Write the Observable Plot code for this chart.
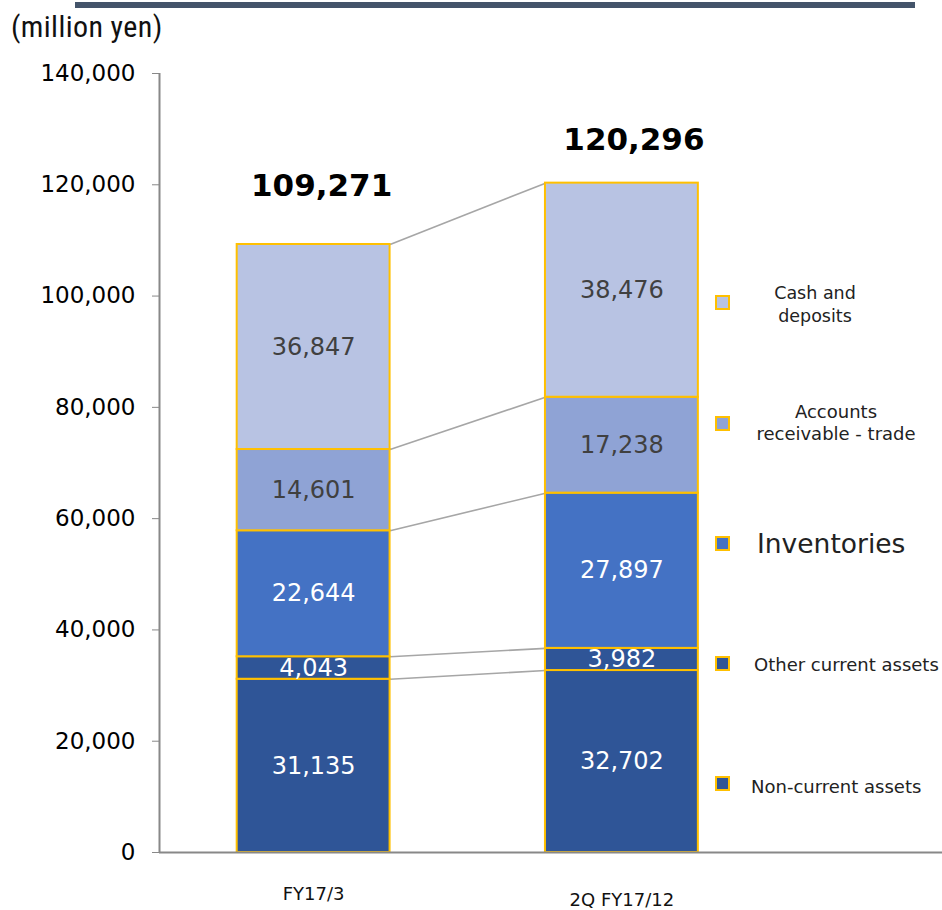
<!DOCTYPE html>
<html>
<head>
<meta charset="utf-8">
<script src="https://cdn.jsdelivr.net/npm/d3@7"></script>
<script src="https://cdn.jsdelivr.net/npm/@observablehq/plot@0.6"></script>
<style>
  html, body { margin: 0; padding: 0; background: #fff; }
  #wrap { position: relative; width: 942px; height: 910px; overflow: hidden; font-family: "DejaVu Sans", Verdana, sans-serif; }
  #topbar { position: absolute; left: 75px; top: 2px; width: 840px; height: 6px; background: #44546A; }
  #unit { position: absolute; left: 11px; top: 9px; line-height: 36px; font-family: "Liberation Sans Narrow", "Roboto Condensed", "Liberation Sans", sans-serif; font-stretch: condensed; font-size: 30px; color: #111; letter-spacing: 0.4px; }
  #chart { position: absolute; left: 0; top: 50px; }
  .lg-sq { position: absolute; width: 11px; height: 11px; border: 2px solid #FFC000; }
  .lg-tx { position: absolute; color: #222; white-space: nowrap; transform: translateY(-50%); }
  svg [aria-label="y-axis tick"] { stroke: #888; }
</style>
</head>
<body>
<div id="wrap">
  <div id="topbar"></div>
  <div id="unit">(million yen)</div>
  <div id="chart"></div>
  <div id="legend"></div>
</div>
<script>
// ---- data ----
const periods = ["FY17/3", "2Q FY17/12"];
const categories = ["Non-current assets", "Other current assets", "Inventories", "Accounts receivable - trade", "Cash and deposits"];
const valuesFY17_3 = [31135, 4043, 22644, 14601, 36847];
const values2QFY17_12 = [32702, 3982, 27897, 17238, 38476];
const totals = [109271, 120296];
const yTicks = [0, 20000, 40000, 60000, 80000, 100000, 120000, 140000];
const legendLabels = ["Non-current assets", "Other current assets", "Inventories", "Accounts\nreceivable - trade", "Cash and\ndeposits"];

// ---- styles ----
const colors = ["#2F5597", "#2F5597", "#4472C4", "#8FA3D5", "#B8C3E3"];
const halfWidth = 0.248;

// ---- build table ----
const series = [valuesFY17_3, values2QFY17_12];
const rows = [];
series.forEach((vals, i) => {
  let acc = 0;
  vals.forEach((v, k) => {
    rows.push({i, period: periods[i], category: categories[k], k, value: v, y1: acc, y2: acc + v});
    acc += v;
  });
});
const links = categories.map((c, k) => ({
  a: rows.find(r => r.i === 0 && r.k === k).y2,
  b: rows.find(r => r.i === 1 && r.k === k).y2
}));
const fmt = d3.format(",");
const totalRows = totals.map((t, i) => ({i, t}));

const chart = Plot.plot({
  width: 942,
  height: 860,
  marginLeft: 159,
  marginRight: 0,
  marginTop: 23,
  marginBottom: 58,
  style: {fontFamily: "'DejaVu Sans', Verdana, sans-serif", background: "transparent"},
  x: {type: "linear", domain: [-0.5, 2.04], axis: null},
  y: {domain: [0, 140000], label: null, axis: null},
  color: {domain: categories, range: colors},
  marks: [
    Plot.link(links, {x1: () => 0 + halfWidth, x2: () => 1 - halfWidth, y1: "a", y2: "b", stroke: "#A6A6A6", strokeWidth: 1.6}),
    Plot.rect(rows, {x1: d => d.i - halfWidth, x2: d => d.i + halfWidth, y1: "y1", y2: "y2", fill: "category", stroke: "#FFC000", strokeWidth: 2}),
    Plot.text(rows, {filter: d => d.k < 3, x: "i", y: d => (d.y1 + d.y2) / 2, text: d => fmt(d.value), fill: "#fff", fontSize: 24}),
    Plot.text(rows, {filter: d => d.k >= 3, x: "i", y: d => (d.y1 + d.y2) / 2, text: d => fmt(d.value), fill: "#404040", fontSize: 24}),
    Plot.text(totalRows, {filter: d => d.i === 0, x: "i", y: "t", text: d => fmt(d.t), fontSize: 31, fontWeight: "bold", fill: "#000", dy: -58, dx: 8}),
    Plot.text(totalRows, {filter: d => d.i === 1, x: "i", y: "t", text: d => fmt(d.t), fontSize: 31, fontWeight: "bold", fill: "#000", dy: -43, dx: 12}),
    Plot.text(periods, {filter: (d, i) => i === 0, x: (d, i) => i, y: () => 0, text: d => d, dy: 42, fontSize: 18, fill: "#111"}),
    Plot.text(periods, {filter: (d, i) => i === 1, x: () => 1, y: () => 0, text: d => d, dy: 48, fontSize: 18, fill: "#111"}),
    Plot.axisY({ticks: yTicks, tickFormat: fmt, tickSize: 7, tickPadding: 17, fontSize: 23, fill: "#000"}),
    Plot.ruleX([-0.5], {stroke: "#888", strokeWidth: 2}),
    Plot.ruleY([0], {stroke: "#888", strokeWidth: 2})
  ]
});
document.getElementById("chart").appendChild(chart);

// ---- legend (overlay) ----
const legendPos = [
  {sq: 783, mid: 786, left: 751, size: 18},
  {sq: 663, mid: 664, left: 754, size: 18},
  {sq: 543, mid: 543, left: 757, size: 26.5},
  {sq: 423, mid: 423, center: 836, size: 18, lh: 22},
  {sq: 302, mid: 304.5, center: 815, size: 17.5, lh: 23}
];
const legend = document.getElementById("legend");
categories.forEach((c, k) => {
  const p = legendPos[k];
  const sq = document.createElement("div");
  sq.className = "lg-sq";
  sq.style.left = "715px";
  sq.style.top = (p.sq - 7) + "px";
  sq.style.background = colors[k];
  legend.appendChild(sq);
  const tx = document.createElement("div");
  tx.className = "lg-tx";
  tx.style.fontSize = p.size + "px";
  tx.style.top = p.mid + "px";
  if (p.center) {
    tx.style.left = (p.center - 100) + "px";
    tx.style.width = "200px";
    tx.style.textAlign = "center";
    tx.style.lineHeight = p.lh + "px";
    tx.innerHTML = legendLabels[k].split("\n").join("<br>");
  } else {
    tx.style.left = p.left + "px";
    tx.textContent = legendLabels[k];
  }
  legend.appendChild(tx);
});
</script>
</body>
</html>
